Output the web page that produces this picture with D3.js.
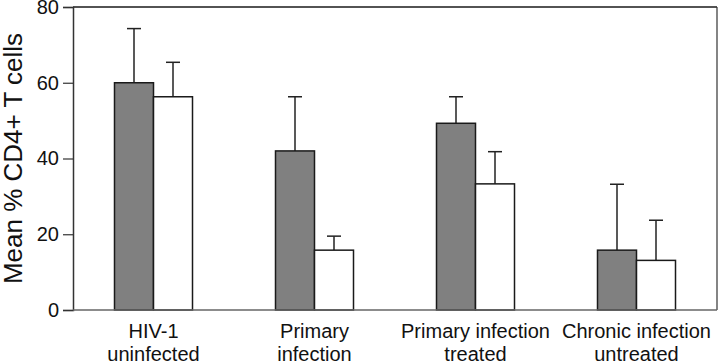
<!DOCTYPE html>
<html>
<head>
<meta charset="utf-8">
<script src="https://cdn.jsdelivr.net/npm/d3@7"></script>
<style>
  body { margin: 0; background: #fff; }
  svg text { font-family: "Liberation Sans", Arial, sans-serif; fill: #111; }
</style>
</head>
<body>
<div id="chart"></div>
<script>
// group labels (two lines each)
const categories = [
    ["HIV-1", "uninfected"],
    ["Primary", "infection"],
    ["Primary infection", "treated"],
    ["Chronic infection", "untreated"]
];
// grey bars and their upper error
const greyMeans = [60, 42, 49.3, 15.8];
const greyErrors = [14.3, 14.3, 7.0, 17.4];
// white bars and their upper error
const whiteMeans = [56.3, 15.8, 33.3, 13.1];
const whiteErrors = [9.1, 3.7, 8.5, 10.6];
const yTicks = [0, 20, 40, 60, 80];

const margin = { top: 7, right: 3, bottom: 52, left: 73 };
const width = 720 - margin.left - margin.right;
const height = 362 - margin.top - margin.bottom;

const svg = d3.select("#chart").append("svg")
    .attr("width", 720)
    .attr("height", 362);

const g = svg.append("g")
    .attr("transform", "translate(" + margin.left + "," + margin.top + ")");

const x = d3.scaleBand()
    .domain(d3.range(categories.length))
    .range([0, width])
    .padding(0);

const y = d3.scaleLinear()
    .domain([0, 80])
    .range([height, 0]);

const barW = 39;

// frame: top and right
g.append("line")
    .attr("x1", 0).attr("x2", width)
    .attr("y1", 0).attr("y2", 0)
    .attr("stroke", "#1a1a1a").attr("stroke-width", 1.5);
g.append("line")
    .attr("x1", width).attr("x2", width)
    .attr("y1", 0).attr("y2", height)
    .attr("stroke", "#333").attr("stroke-width", 1.2);

// build bar records from the arrays
const bars = [];
categories.forEach((c, i) => {
    bars.push({ i: i, side: -1, mean: greyMeans[i], err: greyErrors[i], fill: "#808080" });
    bars.push({ i: i, side: 0, mean: whiteMeans[i], err: whiteErrors[i], fill: "#ffffff" });
});

const barX = d => x(d.i) + x.bandwidth() / 2 + d.side * barW;

// error bars (upper only)
const eb = g.append("g").selectAll("g")
    .data(bars)
    .enter()
    .append("g")
    .attr("stroke", "#222")
    .attr("stroke-width", 1.5);

eb.append("line")
    .attr("x1", d => barX(d) + barW / 2)
    .attr("x2", d => barX(d) + barW / 2)
    .attr("y1", d => y(d.mean))
    .attr("y2", d => y(d.mean + d.err));

eb.append("line")
    .attr("x1", d => barX(d) + barW / 2 - 7)
    .attr("x2", d => barX(d) + barW / 2 + 7)
    .attr("y1", d => y(d.mean + d.err))
    .attr("y2", d => y(d.mean + d.err));

// bars
g.append("g").selectAll("rect")
    .data(bars)
    .enter()
    .append("rect")
    .attr("x", barX)
    .attr("y", d => y(d.mean))
    .attr("width", barW)
    .attr("height", d => height - y(d.mean))
    .attr("fill", d => d.fill)
    .attr("stroke", "#1a1a1a")
    .attr("stroke-width", 1.5);

// y axis
const yAxis = g.append("g")
    .call(d3.axisLeft(y).tickValues(yTicks).tickSize(10).tickPadding(4));
yAxis.select(".domain").attr("stroke", "#333").attr("stroke-width", 1.5);
yAxis.selectAll(".tick line").attr("stroke", "#333").attr("stroke-width", 1.2);
yAxis.selectAll(".tick text")
    .attr("font-size", 20)
    .attr("font-family", "Liberation Sans, Arial, sans-serif")
    .attr("fill", "#111");

// x baseline
g.append("line")
    .attr("x1", 0).attr("x2", width)
    .attr("y1", height).attr("y2", height)
    .attr("stroke", "#666").attr("stroke-width", 1.5);

// x labels
const xl = g.append("g").selectAll("text")
    .data(categories)
    .enter()
    .append("text")
    .attr("text-anchor", "middle")
    .attr("font-size", 20)
    .attr("x", (d, i) => x(i) + x.bandwidth() / 2)
    .attr("y", height + 28);

xl.selectAll("tspan")
    .data(d => d)
    .enter()
    .append("tspan")
    .attr("x", function() { return d3.select(this.parentNode).attr("x"); })
    .attr("dy", (d, j) => j === 0 ? 0 : 23)
    .text(d => d);

// y axis title
g.append("text")
    .attr("transform", "rotate(-90)")
    .attr("x", -height / 2)
    .attr("y", -51)
    .attr("text-anchor", "middle")
    .attr("font-size", 26)
    .text("Mean % CD4+ T cells");
</script>
</body>
</html>
